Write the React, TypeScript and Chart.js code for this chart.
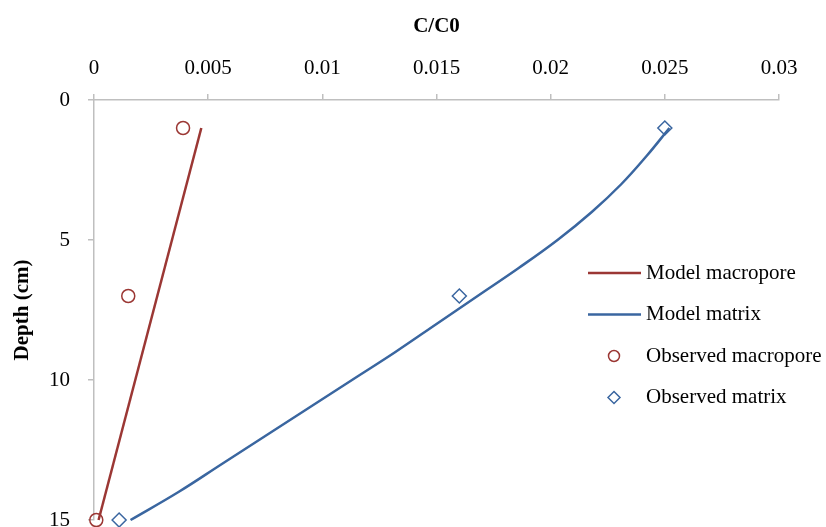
import React, { useEffect, useRef } from 'react';
import { Chart, registerables } from 'chart.js';

Chart.register(...registerables);

const xTicks = [0, 0.005, 0.01, 0.015, 0.02, 0.025, 0.03];
const depthTicks = [0, 5, 10, 15];

const modelMacroporeDepth = [1, 15];
const modelMacroporeC = [0.0047, 0.0002];

const modelMatrixDepth = [1, 2, 3, 4, 5, 6, 7, 8, 9, 10, 11, 12, 13, 14, 15];
const modelMatrixC = [
  0.0252, 0.0242, 0.0231, 0.0218, 0.0203, 0.0186, 0.0168, 0.015, 0.0132, 0.0113, 0.0094, 0.0075, 0.0056,
  0.0037, 0.0016,
];

const obsMacroporeDepth = [1, 7, 15];
const obsMacroporeC = [0.0039, 0.0015, 0.0001];

const obsMatrixDepth = [1, 7, 15];
const obsMatrixC = [0.025, 0.016, 0.0011];

const RED = '#9b3734';
const BLUE = '#3a66a0';
const AXIS = '#bfbfbf';
const FONT = '"Liberation Serif", "Times New Roman", serif';

const toPoints = (xs: number[], ys: number[]) => xs.map((x, i) => ({ x, y: ys[i] }));

const legendPlugin = {
  id: 'insideLegend',
  afterDraw(chart: any) {
    const ctx = chart.ctx as CanvasRenderingContext2D;
    const area = chart.chartArea;
    const x0 = area.left + 494;
    const y0 = area.top + 173;
    const gap = 41.5;
    ctx.save();
    ctx.font = `21px ${FONT}`;
    ctx.textBaseline = 'middle';
    ctx.textAlign = 'left';
    chart.data.datasets.forEach((ds: any, i: number) => {
      const y = y0 + i * gap;
      if (ds.showLine) {
        ctx.strokeStyle = ds.borderColor;
        ctx.lineWidth = 2.5;
        ctx.beginPath();
        ctx.moveTo(x0, y);
        ctx.lineTo(x0 + 53, y);
        ctx.stroke();
      } else {
        const cx = x0 + 26;
        ctx.strokeStyle = ds.pointBorderColor;
        ctx.lineWidth = 1.5;
        ctx.beginPath();
        if (ds.pointStyle === 'circle') {
          ctx.arc(cx, y, 5.5, 0, Math.PI * 2);
        } else {
          const r = 6;
          ctx.moveTo(cx, y - r);
          ctx.lineTo(cx + r, y);
          ctx.lineTo(cx, y + r);
          ctx.lineTo(cx - r, y);
          ctx.closePath();
        }
        ctx.stroke();
      }
      ctx.fillStyle = '#000';
      ctx.fillText(ds.label, x0 + 58, y);
    });
    ctx.restore();
  },
};

export default function App() {
  const ref = useRef<HTMLCanvasElement | null>(null);

  useEffect(() => {
    if (!ref.current) return;
    const chart = new Chart(ref.current, {
      type: 'scatter',
      data: {
        datasets: [
          {
            label: 'Model macropore',
            data: toPoints(modelMacroporeC, modelMacroporeDepth),
            showLine: true,
            borderColor: RED,
            borderWidth: 2.5,
            pointRadius: 0,
            fill: false,
            clip: false,
          },
          {
            label: 'Model matrix',
            data: toPoints(modelMatrixC, modelMatrixDepth),
            showLine: true,
            borderColor: BLUE,
            borderWidth: 2.5,
            pointRadius: 0,
            tension: 0.4,
            fill: false,
            clip: false,
          },
          {
            label: 'Observed macropore',
            data: toPoints(obsMacroporeC, obsMacroporeDepth),
            showLine: false,
            pointStyle: 'circle',
            pointRadius: 6.5,
            pointBorderWidth: 1.5,
            pointBorderColor: RED,
            pointBackgroundColor: 'rgba(0,0,0,0)',
            clip: false,
          },
          {
            label: 'Observed matrix',
            data: toPoints(obsMatrixC, obsMatrixDepth),
            showLine: false,
            pointStyle: 'rectRot',
            pointRadius: 7,
            pointBorderWidth: 1.5,
            pointBorderColor: BLUE,
            pointBackgroundColor: 'rgba(0,0,0,0)',
            clip: false,
          },
        ] as any,
      },
      options: {
        responsive: false,
        animation: false,
        layout: { autoPadding: false, padding: { left: 0, top: 0, right: 47, bottom: 7 } },
        plugins: {
          legend: { display: false },
          tooltip: { enabled: false },
        },
        scales: {
          x: {
            type: 'linear',
            position: 'top',
            min: 0,
            max: 0.03,
            afterBuildTicks: (s: any) => {
              s.ticks = xTicks.map((v) => ({ value: v }));
            },
            afterFit: (s: any) => {
              s.height = 100;
              s.paddingLeft = 0;
              s.paddingRight = 0;
            },
            ticks: {
              font: { family: FONT, size: 21 },
              color: '#000',
              padding: 13,
              maxRotation: 0,
              callback: (v: any) => String(v),
            },
            title: {
              display: true,
              text: 'C/C0',
              font: { family: FONT, size: 21, weight: 'bold' },
              color: '#000',
              padding: { top: 14, bottom: 0 },
            },
            grid: { display: true, drawOnChartArea: false, drawTicks: true, tickLength: 6, color: AXIS, lineWidth: 1.5 },
            border: { display: true, color: AXIS, width: 1.5 },
          },
          y: {
            type: 'linear',
            reverse: true,
            min: 0,
            max: 15,
            afterBuildTicks: (s: any) => {
              s.ticks = depthTicks.map((v) => ({ value: v }));
            },
            afterFit: (s: any) => {
              s.width = 94;
              s.paddingTop = 0;
              s.paddingBottom = 0;
            },
            ticks: {
              font: { family: FONT, size: 21 },
              color: '#000',
              padding: 18,
              callback: (v: any) => String(v),
            },
            title: {
              display: true,
              text: 'Depth (cm)',
              font: { family: FONT, size: 21, weight: 'bold' },
              color: '#000',
              padding: { top: 10, bottom: 0 },
            },
            grid: { display: true, drawOnChartArea: false, drawTicks: true, tickLength: 6, color: AXIS, lineWidth: 1.5 },
            border: { display: true, color: AXIS, width: 1.5 },
          },
        },
      } as any,
      plugins: [legendPlugin],
    });
    return () => chart.destroy();
  }, []);

  return (
    <div style={{ position: 'absolute', left: 0, top: 0, width: 826, height: 527, background: '#fff' }}>
      <canvas ref={ref} width={826} height={527} />
    </div>
  );
}
